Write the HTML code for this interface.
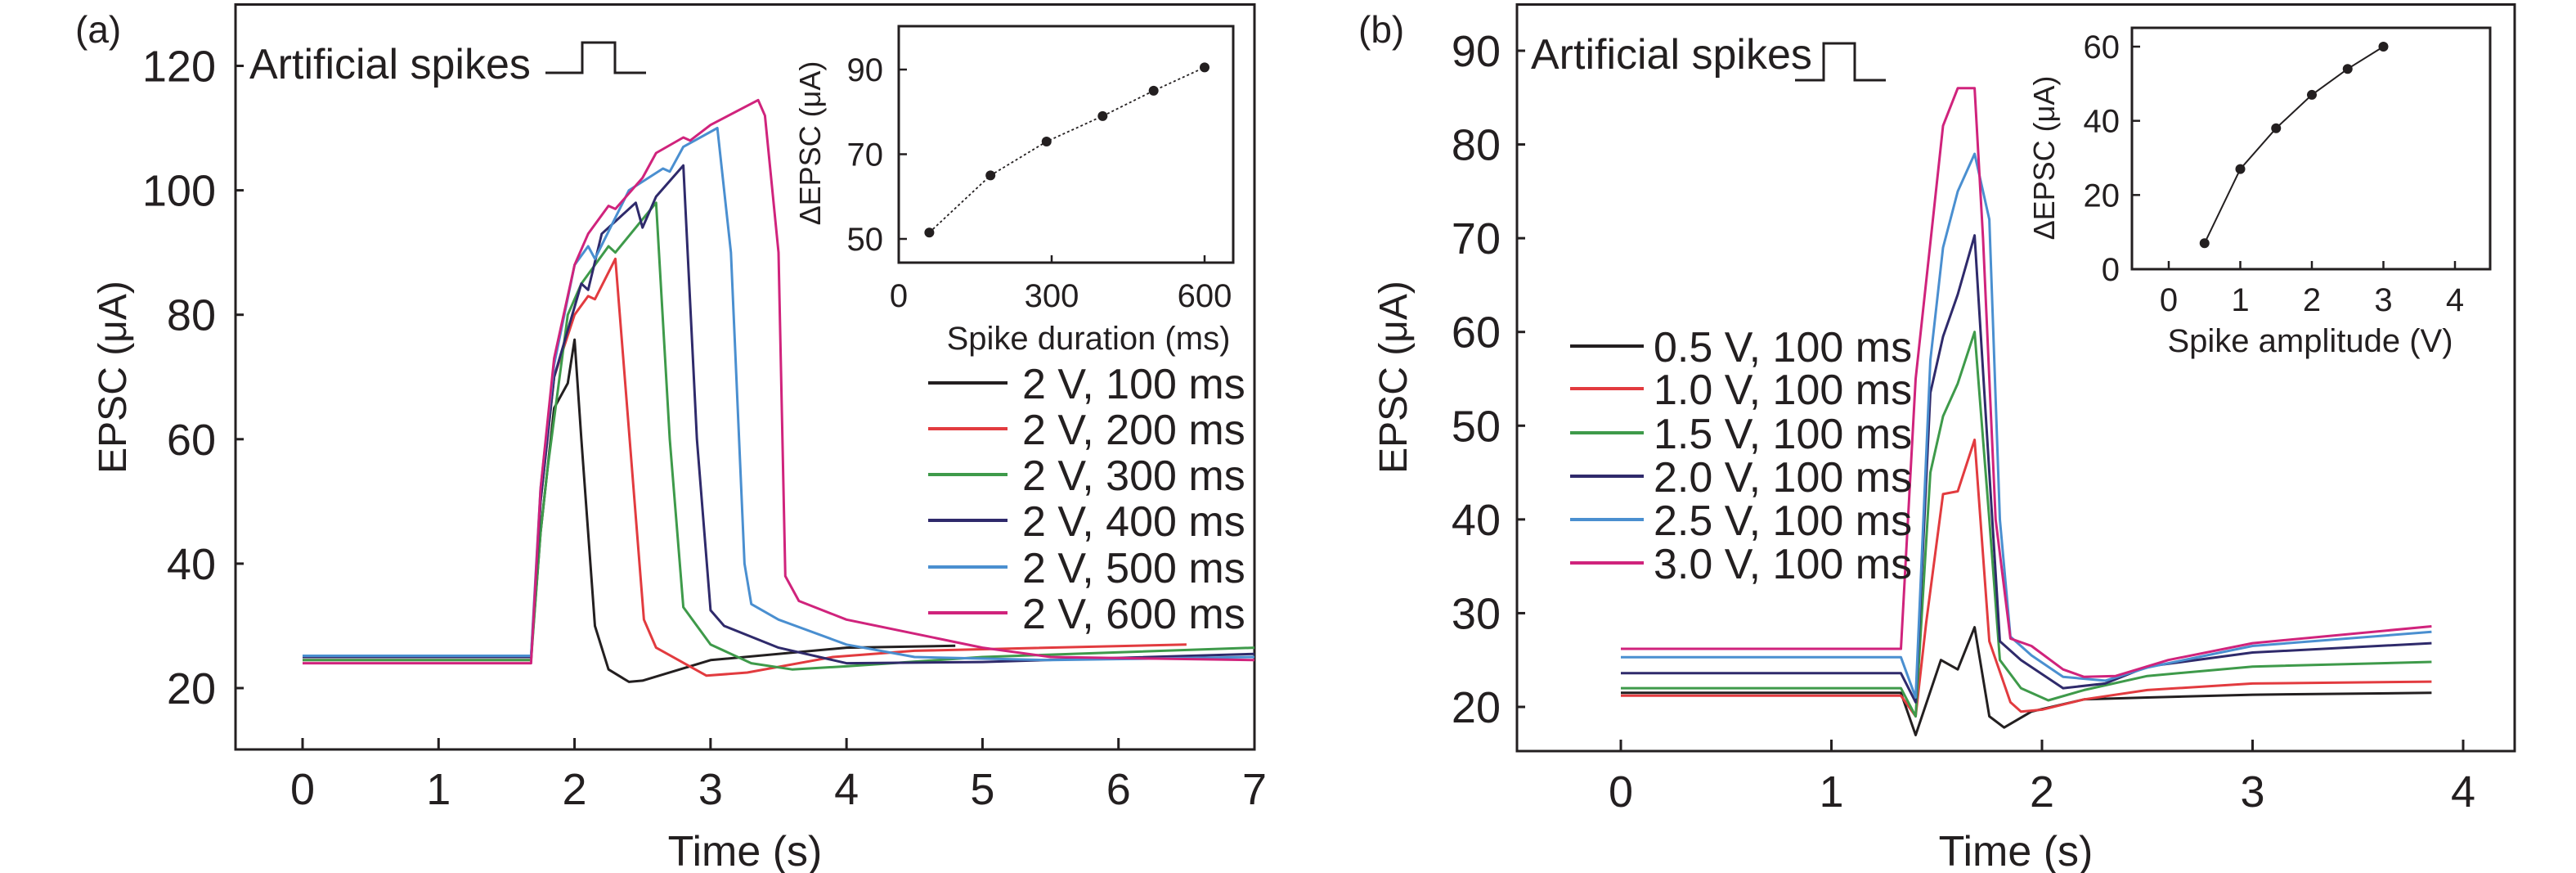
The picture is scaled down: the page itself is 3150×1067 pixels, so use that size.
<!DOCTYPE html>
<html><head><meta charset="utf-8"><style>
html,body{margin:0;padding:0;background:#fff}
svg{display:block}
text{font-family:"Liberation Sans Narrow","Liberation Sans",sans-serif;fill:#231f20}
.wide{font-family:"Liberation Sans",sans-serif}
</style></head><body>
<svg id="chart" width="3150" height="1067" viewBox="0 0 3150 1067" xmlns="http://www.w3.org/2000/svg">
<g id="root"></g>
</svg>
<script>
// ---------- Panel (a) data ----------
const aLabels = ["2 V, 100 ms","2 V, 200 ms","2 V, 300 ms","2 V, 400 ms","2 V, 500 ms","2 V, 600 ms"];
const aT_100 = [0,1.68,1.75,1.85,1.95,2.0,2.05,2.15,2.25,2.4,2.5,3.0,4.0,4.8];
const aV_100 = [25,25,45,65,69,76,60,30,23,21,21.2,24.5,26.5,26.8];
const aT_200 = [0,1.68,1.75,1.85,2.0,2.1,2.15,2.3,2.51,2.6,2.97,3.27,3.9,4.5,6.5];
const aV_200 = [24.5,24.5,50,70,80,83,82.5,89,31,26.5,22,22.5,25,26,27];
const aT_300 = [0,1.68,1.75,1.8,1.95,2.05,2.15,2.25,2.3,2.6,2.7,2.8,3.0,3.3,3.6,4.0,5.0,7.0];
const aV_300 = [24.5,24.5,45,55,80,85,88,91,90,98,60,33,27,24,23,23.5,25,26.5];
const aT_400 = [0,1.68,1.75,1.85,2.05,2.1,2.2,2.45,2.5,2.6,2.8,2.9,3.0,3.1,3.5,4.0,5.0,7.0];
const aV_400 = [25,25,50,70,85,84,93,98,94,99,104,60,32.5,30,26.5,24,24.2,25.5];
const aT_500 = [0,1.68,1.75,1.85,2.0,2.1,2.15,2.4,2.65,2.7,2.8,3.05,3.15,3.25,3.3,3.5,4.0,4.5,5.5,7.0];
const aV_500 = [25.2,25.2,52,72,88,91,89,100,103.5,103,107,110,90,40,33.5,31,27,25,24.5,25];
const aT_600 = [0,1.68,1.75,1.85,2.0,2.1,2.25,2.3,2.5,2.6,2.8,2.85,3.0,3.35,3.4,3.5,3.55,3.65,4.0,5.0,5.5,7.0];
const aV_600 = [24,24,52,73,88,93,97.5,97,102,106,108.5,108,110.5,114.5,112,90,38,34,31,26.5,25,24.5];
const aXTicks = [0,1,2,3,4,5,6,7];
const aYTicks = [20,40,60,80,100,120];
// inset (a)
const aInsetX = [60,180,290,400,500,600];
const aInsetY = [51.5,65,73,79,85,90.5];
const aInsetXTicks = [0,300,600];
const aInsetYTicks = [50,70,90];

// ---------- Panel (b) data ----------
const bLabels = ["0.5 V, 100 ms","1.0 V, 100 ms","1.5 V, 100 ms","2.0 V, 100 ms","2.5 V, 100 ms","3.0 V, 100 ms"];
const bT_05 = [0,1.33,1.4,1.52,1.6,1.68,1.75,1.82,1.95,2.2,2.5,3.0,3.85];
const bV_05 = [21.5,21.5,17,25,24,28.5,19,17.8,19.5,20.8,21,21.3,21.5];
const bT_10 = [0,1.33,1.4,1.45,1.53,1.6,1.68,1.75,1.85,1.9,2.0,2.2,2.5,3.0,3.85];
const bV_10 = [21.2,21.2,19,29,42.7,43,48.5,27,20.5,19.5,19.7,20.8,21.8,22.5,22.7];
const bT_15 = [0,1.33,1.4,1.47,1.53,1.6,1.68,1.75,1.8,1.9,2.03,2.2,2.5,3.0,3.85];
const bV_15 = [22,22,19,45,51,54.5,60,40,25,22,20.7,21.8,23.3,24.3,24.8];
const bT_20 = [0,1.33,1.4,1.47,1.53,1.6,1.68,1.75,1.8,1.9,2.1,2.3,2.5,3.0,3.85];
const bV_20 = [23.6,23.6,20.5,53.5,59.5,64,70.3,45,27,25,22,22.5,24.3,25.8,26.8];
const bT_25 = [0,1.33,1.4,1.47,1.53,1.6,1.68,1.75,1.8,1.85,1.95,2.1,2.3,2.5,3.0,3.85];
const bV_25 = [25.3,25.3,21,57,69,75,79,72,40,27.5,25.5,23.2,22.8,24.2,26.5,28];
const bT_30 = [0,1.33,1.4,1.53,1.6,1.68,1.72,1.78,1.85,1.95,2.1,2.2,2.35,2.6,3.0,3.85];
const bV_30 = [26.2,26.2,55,82,86,86,70,40,27.3,26.5,24,23.2,23.3,25,26.8,28.6];
const bXTicks = [0,1,2,3,4];
const bYTicks = [20,30,40,50,60,70,80,90];
// inset (b)
const bInsetX = [0.5,1,1.5,2,2.5,3];
const bInsetY = [7,27,38,47,54,60];
const bInsetXTicks = [0,1,2,3,4];
const bInsetYTicks = [0,20,40,60];

const colors = ["#231f20","#e23b3f","#3e9a4a","#2f2a6b","#4a8fd0","#d0237c"];

const NS = "http://www.w3.org/2000/svg";
const root = document.getElementById("root");
function mk(tag, attrs, parent, txt){
  const e = document.createElementNS(NS, tag);
  for (const k in attrs) e.setAttribute(k, attrs[k]);
  if (txt !== undefined) e.textContent = txt;
  (parent||root).appendChild(e);
  return e;
}
function lin(d0,d1,r0,r1){ return v => r0 + (v-d0)/(d1-d0)*(r1-r0); }
function pathFrom(xs, ys, sx, sy){
  return xs.map((t,i)=>(i?"L":"M")+sx(t).toFixed(1)+","+sy(ys[i]).toFixed(1)).join(" ");
}

// ================= Panel A =================
const axA = lin(0,7,370,1534);
const ayA = lin(20,120,841,80.5);
let frame = mk("rect",{x:288,y:5.5,width:1246,height:910.5,fill:"none",stroke:"#231f20","stroke-width":3});


let t = mk("text",{x:92,y:52,"font-size":46},root,"(a)");


aXTicks.forEach(v=>{
  const x = axA(v);
  const l = mk("line",{x1:x,x2:x,y1:916,y2:902,stroke:"#231f20","stroke-width":3});
  
  
  const tx = mk("text",{x:x,y:983,"font-size":54,"text-anchor":"middle"},root,String(v));
  
  
});
aYTicks.forEach(v=>{
  const y = ayA(v);
  const l = mk("line",{x1:288,x2:298,y1:y,y2:y,stroke:"#231f20","stroke-width":3});
  
  
  const tx = mk("text",{x:264,y:y+19,"font-size":54,"text-anchor":"end"},root,String(v));
  
  
});
t = mk("text",{x:911,y:1058,"font-size":52,"text-anchor":"middle"},root,"Time (s)");


t = mk("text",{x:0,y:0,"font-size":48,"text-anchor":"middle","class":"wide",transform:"translate(154,461) rotate(-90)"},root,"EPSC (μA)");


t = mk("text",{x:305,y:96,"font-size":52},root,"Artificial spikes");


let p = mk("path",{d:"M667,89 H712 V52 H752 V89 H790",fill:"none",stroke:"#231f20","stroke-width":3});



const aSeries = [[aT_100,aV_100],[aT_200,aV_200],[aT_300,aV_300],[aT_400,aV_400],[aT_500,aV_500],[aT_600,aV_600]];
aSeries.forEach((s,i)=>{
  const e = mk("path",{d:pathFrom(s[0],s[1],axA,ayA),fill:"none",stroke:colors[i],"stroke-width":3,"stroke-linejoin":"round"});
  
  
});
const aLegY = [468,524,580,636,693,749];
aLabels.forEach((lab,i)=>{
  const y = aLegY[i];
  const l = mk("line",{x1:1135,x2:1232,y1:y,y2:y,stroke:colors[i],"stroke-width":4});
  
  
  const tx = mk("text",{x:1250,y:y+19,"font-size":52},root,lab);
  
  
});
// inset a
const iaX = lin(0,600,1099,1473);
const iaY = lin(50,90,292,85);
frame = mk("rect",{x:1099,y:32,width:409,height:289,fill:"#fff",stroke:"#231f20","stroke-width":3});


aInsetXTicks.forEach(v=>{
  const x = iaX(v);
  const l = mk("line",{x1:x,x2:x,y1:321,y2:312,stroke:"#231f20","stroke-width":2.5});
  
  
  const tx = mk("text",{x:x,y:375,"font-size":40,"text-anchor":"middle"},root,String(v));
  
  
});
aInsetYTicks.forEach(v=>{
  const y = iaY(v);
  const l = mk("line",{x1:1099,x2:1109,y1:y,y2:y,stroke:"#231f20","stroke-width":2.5});
  
  
  const tx = mk("text",{x:1080,y:y+14,"font-size":40,"text-anchor":"end"},root,String(v));
  
  
});
t = mk("text",{x:1331,y:427,"font-size":40,"text-anchor":"middle"},root,"Spike duration (ms)");


t = mk("text",{x:0,y:0,"font-size":36,"text-anchor":"middle","class":"wide",transform:"translate(1003,175) rotate(-90)"},root,"ΔEPSC (μA)");


p = mk("path",{d:pathFrom(aInsetX,aInsetY,iaX,iaY),fill:"none",stroke:"#231f20","stroke-width":1.8,"stroke-dasharray":"3,3"});


aInsetX.forEach((v,i)=>{
  const c = mk("circle",{cx:iaX(v),cy:iaY(aInsetY[i]),r:6,fill:"#231f20"});
  
  
});

// ================= Panel B =================
const axB = lin(0,4,1982,3012);
const ayB = lin(20,90,864,62);
frame = mk("rect",{x:1855,y:5.5,width:1220,height:912.5,fill:"none",stroke:"#231f20","stroke-width":3});


t = mk("text",{x:1661,y:52,"font-size":46},root,"(b)");


bXTicks.forEach(v=>{
  const x = axB(v);
  const l = mk("line",{x1:x,x2:x,y1:918,y2:904,stroke:"#231f20","stroke-width":3});
  
  
  const tx = mk("text",{x:x,y:986,"font-size":54,"text-anchor":"middle"},root,String(v));
  
  
});
bYTicks.forEach(v=>{
  const y = ayB(v);
  const l = mk("line",{x1:1855,x2:1865,y1:y,y2:y,stroke:"#231f20","stroke-width":3});
  
  
  const tx = mk("text",{x:1835,y:y+19,"font-size":54,"text-anchor":"end"},root,String(v));
  
  
});
t = mk("text",{x:2465,y:1058,"font-size":52,"text-anchor":"middle"},root,"Time (s)");


t = mk("text",{x:0,y:0,"font-size":48,"text-anchor":"middle","class":"wide",transform:"translate(1720,461) rotate(-90)"},root,"EPSC (μA)");


t = mk("text",{x:1872,y:84,"font-size":52},root,"Artificial spikes");


p = mk("path",{d:"M2195,98 H2230 V53 H2268 V98 H2306",fill:"none",stroke:"#231f20","stroke-width":3});



const bSeries = [[bT_05,bV_05],[bT_10,bV_10],[bT_15,bV_15],[bT_20,bV_20],[bT_25,bV_25],[bT_30,bV_30]];
bSeries.forEach((s,i)=>{
  const e = mk("path",{d:pathFrom(s[0],s[1],axB,ayB),fill:"none",stroke:colors[i],"stroke-width":3,"stroke-linejoin":"round"});
  
  
});
const bLegY = [423,475,529,582,635,688];
bLabels.forEach((lab,i)=>{
  const y = bLegY[i];
  const l = mk("line",{x1:1920,x2:2010,y1:y,y2:y,stroke:colors[i],"stroke-width":4});
  
  
  const tx = mk("text",{x:2022,y:y+19,"font-size":52},root,lab);
  
  
});
// inset b
const ibX = lin(0,4,2652,3002);
const ibY = lin(0,60,329,57);
frame = mk("rect",{x:2607,y:34,width:438,height:295,fill:"#fff",stroke:"#231f20","stroke-width":3});


bInsetXTicks.forEach(v=>{
  const x = ibX(v);
  const l = mk("line",{x1:x,x2:x,y1:329,y2:319,stroke:"#231f20","stroke-width":2.5});
  
  
  const tx = mk("text",{x:x,y:380,"font-size":40,"text-anchor":"middle"},root,String(v));
  
  
});
bInsetYTicks.forEach(v=>{
  const y = ibY(v);
  const l = mk("line",{x1:2607,x2:2617,y1:y,y2:y,stroke:"#231f20","stroke-width":2.5});
  
  
  const tx = mk("text",{x:2592,y:y+14,"font-size":40,"text-anchor":"end"},root,String(v));
  
  
});
t = mk("text",{x:2825,y:430,"font-size":40,"text-anchor":"middle"},root,"Spike amplitude (V)");


t = mk("text",{x:0,y:0,"font-size":36,"text-anchor":"middle","class":"wide",transform:"translate(2512,193) rotate(-90)"},root,"ΔEPSC (μA)");


p = mk("path",{d:pathFrom(bInsetX,bInsetY,ibX,ibY),fill:"none",stroke:"#231f20","stroke-width":2});


bInsetX.forEach((v,i)=>{
  const c = mk("circle",{cx:ibX(v),cy:ibY(bInsetY[i]),r:6,fill:"#231f20"});
  
  
});
</script>
</body></html>
